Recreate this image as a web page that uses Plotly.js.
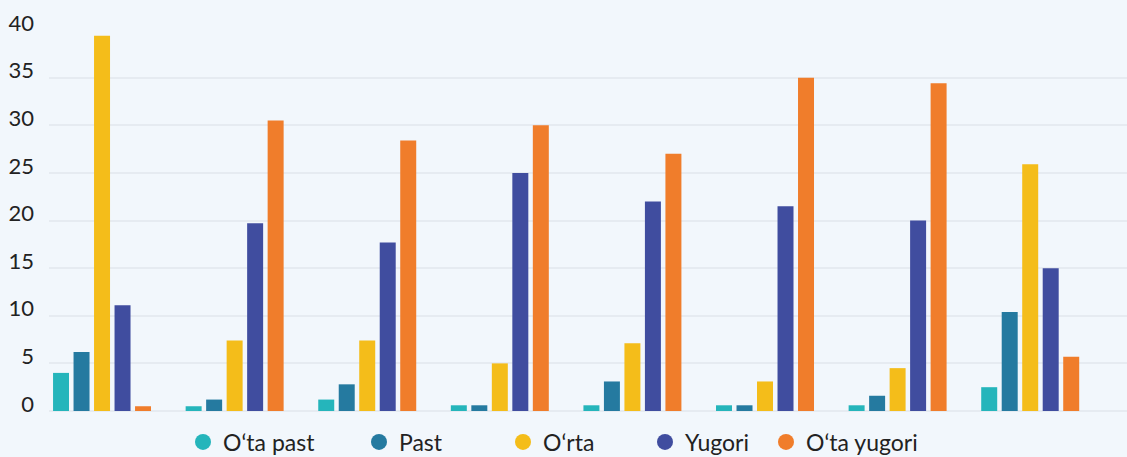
<!DOCTYPE html>
<html>
<head>
<meta charset="utf-8">
<script src="https://cdn.plot.ly/plotly-3.0.1.min.js"></script>
<style>
html,body{margin:0;padding:0;background:#f2f7fc;}
#chart{width:1127px;height:457px;}
</style>
</head>
<body>
<div id="chart"></div>
<script>
const categories = ["1", "2", "3", "4", "5", "6", "7", "8"];
const seriesNames = ["O‘ta past", "Past", "O‘rta", "Yugori", "O‘ta yugori"];
const otaPast   = [4.0, 0.5, 1.2, 0.6, 0.6, 0.6, 0.6, 2.5];
const past      = [6.2, 1.2, 2.8, 0.6, 3.1, 0.6, 1.6, 10.4];
const orta      = [39.4, 7.4, 7.4, 5.0, 7.1, 3.1, 4.5, 25.9];
const yugori    = [11.1, 19.7, 17.7, 25.0, 22.0, 21.5, 20.0, 15.0];
const otaYugori = [0.5, 30.5, 28.4, 30.0, 27.0, 35.0, 34.4, 5.7];
const yTicks = [0, 5, 10, 15, 20, 25, 30, 35, 40];

const seriesValues = [otaPast, past, orta, yugori, otaYugori];
const colors = ["#25b5bb", "#257aa0", "#f4bd1a", "#404d9f", "#f07d2b"];
const legendX = [195, 371, 515, 657, 778]; // px, left of legend circles
const FONT = "Lato, 'Open Sans', sans-serif";

const traces = [];
seriesValues.forEach((vals, i) => {
  traces.push({
    type: "bar", x: categories, y: vals, name: seriesNames[i],
    marker: {color: colors[i]}, showlegend: false, hoverinfo: "y"
  });
});
seriesValues.forEach((vals, i) => {
  traces.push({
    type: "scatter", mode: "markers", x: [null], y: [null], name: seriesNames[i],
    marker: {color: colors[i], size: 20, symbol: "circle"},
    legend: i === 0 ? "legend" : "legend" + (i + 1), showlegend: true
  });
});

const layout = {
  width: 1127, height: 457,
  paper_bgcolor: "#f2f7fc", plot_bgcolor: "#f2f7fc",
  margin: {l: 49, r: 0, t: 30, b: 46},
  font: {family: FONT, size: 22, color: "#222222"},
  barmode: "group", bargap: 0.227, bargroupgap: 0.22,
  xaxis: {
    type: "category", range: [-0.4, 7.73], showticklabels: false,
    showgrid: false, zeroline: false, showline: false, ticks: ""
  },
  yaxis: {
    range: [0, 40], tickvals: yTicks, ticktext: yTicks.map(String),
    showgrid: true, gridcolor: "#e6ebf1", gridwidth: 2,
    zeroline: true, zerolinecolor: "#e6ebf1", zerolinewidth: 2,
    ticks: "", ticklabelstandoff: 14, ticklabelshift: -7,
    tickfont: {family: FONT, size: 22, color: "#222222"}
  },
  showlegend: true
};
legendX.forEach((px, i) => {
  const key = i === 0 ? "legend" : "legend" + (i + 1);
  layout[key] = {
    xref: "container", yref: "container",
    x: (px - 12) / 1127, y: 15 / 457, xanchor: "left", yanchor: "middle",
    orientation: "h", bgcolor: "rgba(0,0,0,0)", borderwidth: 0,
    font: {family: FONT, size: 23, color: "#222222"}, itemwidth: 30
  };
});

Plotly.newPlot("chart", traces, layout, {displayModeBar: false, staticPlot: true});
</script>
</body>
</html>
